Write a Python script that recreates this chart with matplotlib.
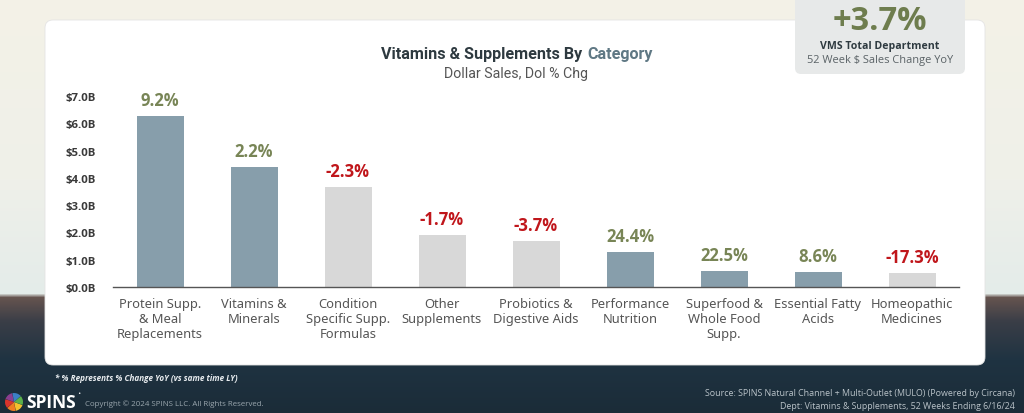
import numpy as np
import matplotlib
matplotlib.use("Agg")
from matplotlib import pyplot as plt
from matplotlib.patches import FancyBboxPatch, Wedge

# data
categories = ["Protein Supp.\n& Meal\nReplacements", "Vitamins &\nMinerals",
              "Condition\nSpecific Supp.\nFormulas", "Other\nSupplements",
              "Probiotics &\nDigestive Aids", "Performance\nNutrition",
              "Superfood &\nWhole Food\nSupp.", "Essential Fatty\nAcids",
              "Homeopathic\nMedicines"]
salesB = [6.26, 4.40, 3.66, 1.90, 1.68, 1.28, 0.59, 0.55, 0.51]
pctChg = [9.2, 2.2, -2.3, -1.7, -3.7, 24.4, 22.5, 8.6, -17.3]
yTicks = [0, 1, 2, 3, 4, 5, 6, 7]
totalChg = "+3.7%"

BOLD = ["Open Sans", "DejaVu Sans"]
TITLE = ["Roboto", "DejaVu Sans"]

W, H = 1024, 414
fig = plt.figure(figsize=(W / 100, H / 100), dpi=100)

# background gradient (beige top, dark navy bottom)
bg = fig.add_axes([0, 0, 1, 1])
stops_y = [0, 180, 294, 298, 322, 360, 414]
stops_c = ["#f4f2e7", "#eff0e9", "#e4ece9", "#66544f", "#3a3e47", "#1f3342", "#1b2c38"]
rgb = np.array([matplotlib.colors.to_rgb(c) for c in stops_c])
rows = np.arange(H)
grad = np.stack([np.interp(rows, stops_y, rgb[:, k]) for k in range(3)], axis=1)
bg.imshow(grad[:, None, :], aspect="auto", extent=[0, W, H, 0])
bg.set_xlim(0, W)
bg.set_ylim(H, 0)
bg.axis("off")

# white panel
panel = FancyBboxPatch((45, 21), 940, 345, boxstyle="round,pad=0,rounding_size=8",
                       fc="white", ec="#e4e4e4", lw=0.6)
bg.add_patch(panel)

# KPI box top right
kpi = FancyBboxPatch((795, -10), 170, 85, boxstyle="round,pad=0,rounding_size=6",
                     fc="#e7e9e9", ec="none")
bg.add_patch(kpi)
bg.text(880, 21, totalChg, ha="center", va="center", fontsize=23.5, fontweight="bold",
        color="#6e7d4e", family=BOLD)
bg.text(880, 47, "VMS Total Department", ha="center", va="center", fontsize=7.6,
        fontweight="bold", color="#2e3a40", family=BOLD)
bg.text(880, 61, "52 Week $ Sales Change YoY", ha="center", va="center", fontsize=7.9,
        color="#5a6266", family=BOLD)

# titles
bg.text(586, 55, "Vitamins & Supplements By ", ha="right", va="center", fontsize=11.6,
        fontweight="bold", color="#2e3a40", family=TITLE)
bg.text(587, 55, "Category", ha="left", va="center", fontsize=11.6,
        fontweight="bold", color="#5f7884", family=TITLE)
bg.text(516, 74, "Dollar Sales, Dol % Chg", ha="center", va="center", fontsize=10.2,
        color="#555555", family=TITLE)

# footer
bg.text(55, 379, "* % Represents % Change YoY (vs same time LY)", ha="left", va="center",
        fontsize=5.9, style="italic", fontweight="bold", color="#e8ecef", family=BOLD)
bg.text(26, 403, "SPINS", ha="left", va="center", fontsize=12.5, fontweight="bold",
        color="white", family=BOLD)
bg.text(77, 394, "•", ha="left", va="center", fontsize=4, color="white")
bg.text(85, 404, "Copyright © 2024 SPINS LLC. All Rights Reserved.", ha="left", va="center",
        fontsize=5.7, color="#9aa6ae", family=BOLD)
bg.text(1015, 394, "Source: SPINS Natural Channel + Multi-Outlet (MULO) (Powered by Circana)",
        ha="right", va="center", fontsize=6.4, color="#b9c2c8", family=BOLD)
bg.text(1015, 407, "Dept: Vitamins & Supplements, 52 Weeks Ending 6/16/24",
        ha="right", va="center", fontsize=6.4, color="#b9c2c8", family=BOLD)
logo_cols = ["#f2c12e", "#ef7d22", "#d9342b", "#8a3e8f", "#3b7fc4", "#5bb04b"]
for i, c in enumerate(logo_cols):
    bg.add_patch(Wedge((14, 403), 9, i * 60 + 20, i * 60 + 78, fc=c, ec="none"))

# main chart
ax = fig.add_axes([113 / W, 1 - 288 / H, 846 / W, 191 / H])
ax.patch.set_alpha(0)
x = np.arange(len(categories))
colors = ["#879eab" if p > 0 else "#d8d8d8" for p in pctChg]
ax.bar(x, salesB, width=0.5, color=colors, zorder=2)
for xi, v, p in zip(x, salesB, pctChg):
    ax.annotate(f"{p:.1f}%", (xi, v), xytext=(0, 5), textcoords="offset points",
                ha="center", va="bottom", fontsize=12, fontweight="bold",
                color="#788556" if p > 0 else "#c0161b", family=BOLD,
                annotation_clip=False)
ax.set_xlim(-0.5, len(categories) - 0.5)
ax.set_ylim(0, 7)
ax.set_yticks(yTicks)
ax.set_yticklabels([f"${t:.1f}B" for t in yTicks])
ax.set_xticks(x)
ax.set_xticklabels(categories, linespacing=1.2)
for sp in ["top", "right", "left"]:
    ax.spines[sp].set_visible(False)
ax.spines["bottom"].set_color("#555555")
ax.spines["bottom"].set_linewidth(1)
ax.tick_params(axis="y", length=0, pad=12, labelsize=8.2, labelcolor="#3a3a3a")
ax.tick_params(axis="x", length=0, pad=7, labelsize=9.3, labelcolor="#555555")
for lbl in ax.get_yticklabels():
    lbl.set_fontweight("bold")
    lbl.set_family(BOLD)
for lbl in ax.get_xticklabels():
    lbl.set_family(["Noto Sans", "DejaVu Sans"])

fig.savefig("out.png", dpi=100)
